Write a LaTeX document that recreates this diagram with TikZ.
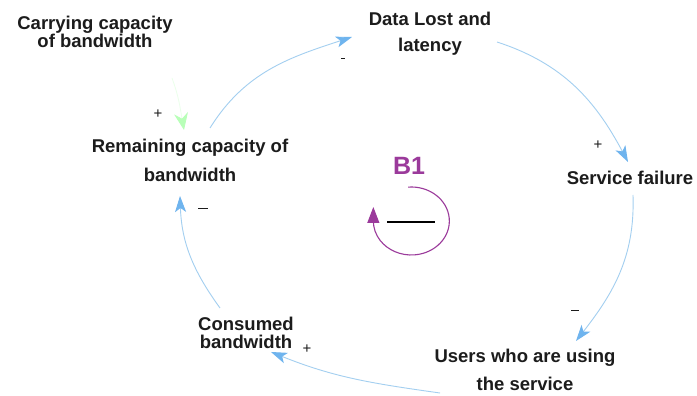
\documentclass[tikz,border=0pt]{standalone}
\usepackage{fontspec}
\setmainfont{Liberation Sans}
\usetikzlibrary{arrows.meta}
\definecolor{linkblue}{HTML}{A3CFF0}
\definecolor{tipblue}{HTML}{6FB4EE}
\definecolor{loopc}{HTML}{9B3A9B}
\definecolor{txt}{HTML}{1C1C1C}
\begin{document}
\begin{tikzpicture}[x=1pt,y=1pt,
  lbl/.style={font=\bfseries\fontsize{18.5}{#1}\selectfont, text=txt, align=center, inner sep=0pt},
  lbl/.default=27,
  flow/.style={draw=linkblue, line width=0.9pt, -{Stealth[length=16pt,width=11pt,inset=4pt,color=tipblue]}},
  sgn/.style={font=\fontsize{15}{15}\selectfont, text=txt, inner sep=0pt}]
\useasboundingbox (0,0) rectangle (697,396);
\fill[white] (0,0) rectangle (697,396);
% nodes
\node[lbl=18] (cap) at (95,364) {Carrying capacity\\of bandwidth};
\node[lbl=26] (data) at (430,362) {Data Lost and\\latency};
\node[lbl=29] (rem) at (190,236) {Remaining capacity of\\bandwidth};
\node[lbl] (serv) at (630,218) {Service failure};
\node[lbl=28] (users) at (525,26) {Users who are using\\the service};
\node[lbl=18] (cons) at (246,63) {Consumed\\bandwidth};
\node[font=\bfseries\fontsize{25}{25}\selectfont, text=loopc, inner sep=0pt] (b1) at (409,230) {B1};
% connector end points
\coordinate (a1s) at (210,268); \coordinate (a1e) at (352,359);
\coordinate (a2s) at (497,354); \coordinate (a2e) at (628,234);
\coordinate (a3s) at (633,201); \coordinate (a3e) at (576,55);
\coordinate (a4s) at (440,3);   \coordinate (a4e) at (271,44);
\coordinate (a5s) at (220,88);  \coordinate (a5e) at (180,200);
\coordinate (g1s) at (172,318); \coordinate (g1e) at (184,266);
% connectors
\draw[flow] (a1s) to[out=58, in=198] (a1e);
\draw[flow] (a2s) to[out=-18, in=118] (a2e);
\draw[flow] (a3s) to[out=-88, in=52] (a3e);
\draw[flow] (a4s) to[out=172, in=-22] (a4e);
\draw[flow] (a5s) to[out=126, in=-88] (a5e);
\draw[draw=green!8, line width=0.8pt, -{Stealth[length=17pt,width=14pt,color=green!28]}] (g1s) to[out=-70, in=100] (g1e);
% polarity signs
\node[sgn] (s1) at (343,336) {\rule[3pt]{4pt}{1.2pt}};
\node[sgn] (s2) at (598,251) {+};
\node[sgn] (s3) at (575,84) {\rule[3pt]{8pt}{1.2pt}};
\node[sgn] (s4) at (307,47) {+};
\node[sgn] (s5) at (203,186) {\rule[3pt]{10pt}{0.9pt}};
\node[sgn] (s6) at (158,282) {+};
% loop symbol
\draw[loopc, line width=1.1pt, -{Triangle[length=16pt,width=12pt]}]
  (411,175) ++(95:34) arc[start angle=95, end angle=-180, x radius=38, y radius=34] -- ++(0,14);
\draw[black, line width=2.6pt] (387,174) -- (435,174);
\end{tikzpicture}
\end{document}
